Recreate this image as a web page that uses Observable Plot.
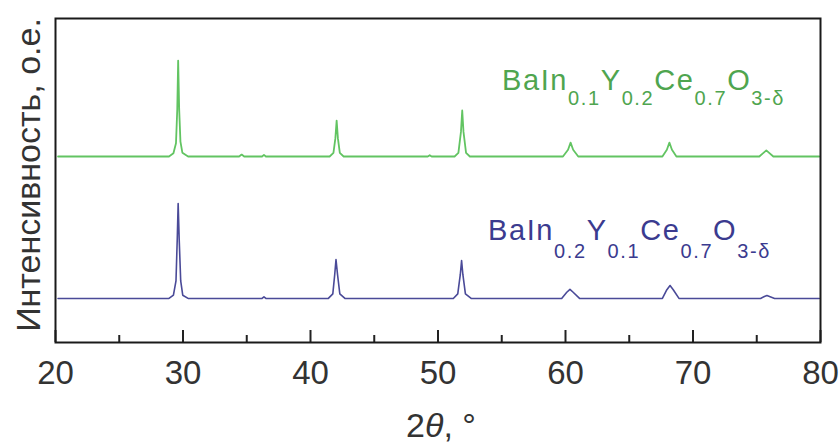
<!DOCTYPE html>
<html><head><meta charset="utf-8">
<script src="https://cdn.jsdelivr.net/npm/d3@7"></script>
<script src="https://cdn.jsdelivr.net/npm/@observablehq/plot@0.6"></script>
<style>body{margin:0;background:#fff;font-family:Arial,"Liberation Sans",sans-serif}</style>
</head><body><div id="chart"></div>
<script>
// Sample 1: BaIn0.1Y0.2Ce0.7O3-δ (green, upper trace)
const greenTheta = [20.2,28.9,29.25,29.45,29.55,29.62,29.7,29.8,29.95,30.4,
  34.4,34.6,34.8,36.2,36.35,36.5,
  41.5,41.8,41.95,42.05,42.15,42.3,42.6,
  49.2,49.35,49.5,
  51.3,51.6,51.8,51.9,52.0,52.2,52.5,
  59.8,60.2,60.4,60.6,61.0,
  67.6,67.95,68.15,68.35,68.7,
  75.2,75.55,75.75,75.95,76.3,
  79.9];
const greenIntensity = [57.4,57.4,58.4,61.5,72,87.0,72,62,58.6,57.4,
  57.4,58.0,57.4,57.4,57.9,57.4,
  57.4,58.5,63,68.5,63,58.5,57.4,
  57.4,57.8,57.4,
  57.4,58.5,65,71.6,65,58.5,57.4,
  57.4,59.5,61.7,59.5,57.4,
  57.4,59.5,61.7,59.5,57.4,
  57.4,58.6,59.3,58.6,57.4,
  57.4];
// Sample 2: BaIn0.2Y0.1Ce0.7O3-δ (blue, lower trace)
const blueTheta = [20.2,28.9,29.25,29.45,29.55,29.62,29.7,29.82,29.98,30.4,
  36.2,36.35,36.5,
  41.4,41.75,41.9,42.0,42.12,42.3,42.7,
  51.2,51.55,51.75,51.85,51.95,52.15,52.6,
  59.7,60.1,60.35,60.6,61.1,
  67.6,67.95,68.2,68.45,68.9,
  75.3,75.6,75.8,76.0,76.4,
  79.9];
const blueIntensity = [13.6,13.6,14.6,19,32,42.9,32,19,14.6,13.6,
  13.6,14.1,13.6,
  13.6,15,21,25.6,21,15,13.6,
  13.6,15,21,25.3,21,15,13.6,
  13.6,15.5,16.4,15.5,13.6,
  13.6,16.3,17.6,16.3,13.6,
  13.6,14.2,14.5,14.2,13.6,
  13.6];

const majorTicks = [20,30,40,50,60,70,80];
const minorTicks = [25,35,45,55,65,75];
const yLabel = "Интенсивность, о.е.";
const xLabelParts = ["2", "θ", ", °"];
const greenLabel = [["BaIn",0],["0.1",1],["Y",0],["0.2",1],["Ce",0],["0.7",1],["O",0],["3-δ",1]];
const blueLabel  = [["BaIn",0],["0.2",1],["Y",0],["0.1",1],["Ce",0],["0.7",1],["O",0],["3-δ",1]];
const greenLabelAt = [55.06, 77.8];
const blueLabelAt = [53.96, 31.5];

const green = greenTheta.map((t,i)=>({theta:t, I:greenIntensity[i]}));
const blue = blueTheta.map((t,i)=>({theta:t, I:blueIntensity[i]}));

const chart = Plot.plot({
  width: 839, height: 444,
  marginLeft: 55, marginRight: 19, marginTop: 18, marginBottom: 102,
  x: {domain: [20, 80], label: null},
  y: {domain: [0, 100], axis: null},
  style: {fontFamily: "Arial, 'Liberation Sans', sans-serif", background: "#fff", color: "#333", overflow: "visible"},
  marks: [
    Plot.ruleX(minorTicks, {x: d=>d, insetTop: 317, stroke: "#222", strokeWidth: 2}),
    Plot.ruleX(majorTicks, {x: d=>d, insetTop: 312, stroke: "#222", strokeWidth: 2}),
    Plot.line(green, {x:"theta", y:"I", stroke:"#62c462", strokeWidth:1.8}),
    Plot.line(blue, {x:"theta", y:"I", stroke:"#4a4a98", strokeWidth:1.6}),
    Plot.frame({stroke:"#1a1a1a", strokeWidth:2}),
    Plot.axisX({ticks: majorTicks, tickSize: 0, tickPadding: 18, fontSize: 33, tickFormat: d=>String(d), label: null, fill:"#333"})
  ]
});
document.getElementById("chart").appendChild(chart);

const svg = d3.select(chart);
const xs = chart.scale("x"), ys = chart.scale("y");

function formula(parts, at, color, subShift) {
  const t = svg.append("text")
    .attr("x", xs.apply(at[0])).attr("y", ys.apply(at[1]))
    .attr("text-anchor", "start")
    .attr("fill", color).style("font-family","Arial, 'Liberation Sans', sans-serif");
  let prevSub = false;
  parts.forEach(([s, sub]) => {
    const ts = t.append("tspan").text(s)
      .style("font-size", sub ? "20px" : "29px")
      .style("letter-spacing", "1.6px");
    if (sub && !prevSub) ts.attr("dy", subShift);
    if (!sub && prevSub) ts.attr("dy", -subShift);
    prevSub = !!sub;
  });
}
formula(greenLabel, greenLabelAt, "#4fa54f", 15);
formula(blueLabel, blueLabelAt, "#3b3b8f", 18);

// x-axis label
const xl = svg.append("text").attr("x", 406).attr("y", 437).attr("text-anchor", "start")
  .attr("fill", "#333").style("font-size","34px").style("font-family","Arial, 'Liberation Sans', sans-serif");
xl.append("tspan").text(xLabelParts[0]);
xl.append("tspan").text(xLabelParts[1]).style("font-style","italic");
xl.append("tspan").text(xLabelParts[2]);

// y-axis label
svg.append("text").attr("transform","translate(40,175) rotate(-90)")
  .attr("text-anchor","middle").attr("fill","#333")
  .style("font-size","34px").style("font-family","Arial, 'Liberation Sans', sans-serif")
  .text(yLabel);
</script></body></html>
